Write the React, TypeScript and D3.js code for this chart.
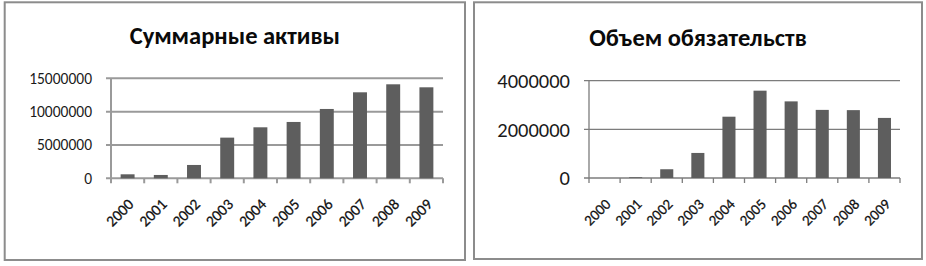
import React from "react";
import * as d3 from "d3";

const years = ["2000","2001","2002","2003","2004","2005","2006","2007","2008","2009"];
const assets = [600000, 500000, 2000000, 6100000, 7650000, 8450000, 10400000, 12900000, 14100000, 13650000];
const liabilities = [0, 30000, 360000, 1030000, 2520000, 3590000, 3150000, 2800000, 2790000, 2470000];
const assetTicks = [0, 5000000, 10000000, 15000000];
const liabTicks = [0, 2000000, 4000000];
const titleAssets = "Суммарные активы";
const titleLiab = "Объем обязательств";

const FONT = "Carlito, 'Open Sans', 'Noto Sans', sans-serif";

type PanelProps = {
  frame: [number, number, number, number];
  plot: { x0: number; x1: number; y0: number; y1: number };
  values: number[];
  ticks: number[];
  title: string;
  titleY: number;
  titleSize: number;
  yLabelSize: number;
  xLabelSize: number;
  gridColor: string;
  gridWidth: number;
};

function Panel(p: PanelProps) {
  const [fx0, fy0, fx1, fy1] = p.frame;
  const x = d3.scaleBand<string>().domain(years).range([p.plot.x0, p.plot.x1]).paddingInner(0.58).paddingOuter(0.29);
  const xc = d3.scaleBand<string>().domain(years).range([p.plot.x0, p.plot.x1]);
  const y = d3.scaleLinear().domain([0, d3.max(p.ticks) as number]).range([p.plot.y0, p.plot.y1]);
  const tickLen = 5;
  return (
    <g>
      <rect x={fx0} y={fy0} width={fx1 - fx0} height={fy1 - fy0} fill="#fff" stroke="#8c8c8c" strokeWidth={2} />
      <text x={(fx0 + fx1) / 2} y={p.titleY} textAnchor="middle" fontFamily={FONT} fontWeight="bold" fontSize={p.titleSize} fill="#0a0a0a">{p.title}</text>
      {p.ticks.map((t) => (
        <g key={t}>
          <line x1={p.plot.x0 - tickLen} x2={p.plot.x1} y1={y(t)} y2={y(t)} stroke={p.gridColor} strokeWidth={p.gridWidth} />
          <text x={p.plot.x0 - 19} y={y(t)} dy="0.35em" textAnchor="end" fontFamily={FONT} fontSize={p.yLabelSize} fill="#1a1a1a">{t}</text>
        </g>
      ))}
      <line x1={p.plot.x0} x2={p.plot.x0} y1={y(0)} y2={y(d3.max(p.ticks) as number)} stroke={p.gridColor} strokeWidth={p.gridWidth} />
      {years.map((yr) => (
        <line key={"t" + yr} x1={(xc(yr) as number) + xc.bandwidth()} x2={(xc(yr) as number) + xc.bandwidth()} y1={y(0)} y2={y(0) + tickLen} stroke={p.gridColor} strokeWidth={p.gridWidth} />
      ))}
      <line x1={p.plot.x0} x2={p.plot.x0} y1={y(0)} y2={y(0) + tickLen} stroke={p.gridColor} strokeWidth={p.gridWidth} />
      {years.map((yr, i) => (
        <rect key={"b" + yr} x={x(yr)} y={y(p.values[i])} width={x.bandwidth()} height={y(0) - y(p.values[i])} fill="#5e5e5e" />
      ))}
      {years.map((yr) => {
        const cx = (xc(yr) as number) + xc.bandwidth() / 2 + 7;
        const cy = y(0) + 27;
        return (
          <text key={"l" + yr} transform={`translate(${cx},${cy}) rotate(-45)`} textAnchor="end" fontFamily={FONT} fontSize={p.xLabelSize} fill="#111" stroke="#111" strokeWidth={0.25}>{yr}</text>
        );
      })}
    </g>
  );
}

export default function App() {
  return (
    <svg width={926} height={266} style={{ position: "absolute", left: 0, top: 0, background: "#fff" }}>
      <rect x={0} y={0} width={926} height={266} fill="#fff" />
      <Panel
        frame={[4.7, 2.3, 465, 260]}
        plot={{ x0: 111, x1: 443, y0: 178.3, y1: 78.3 }}
        values={assets}
        ticks={assetTicks}
        title={titleAssets}
        titleY={44}
        titleSize={24.5}
        yLabelSize={15.5}
        xLabelSize={15.5}
        gridColor="#9a9a9a"
        gridWidth={2}
      />
      <Panel
        frame={[474, 2.3, 922, 259]}
        plot={{ x0: 589, x1: 900, y0: 178, y1: 80.7 }}
        values={liabilities}
        ticks={liabTicks}
        title={titleLiab}
        titleY={46}
        titleSize={24.5}
        yLabelSize={20.5}
        xLabelSize={15}
        gridColor="#7c7c7c"
        gridWidth={1.3}
      />
    </svg>
  );
}
